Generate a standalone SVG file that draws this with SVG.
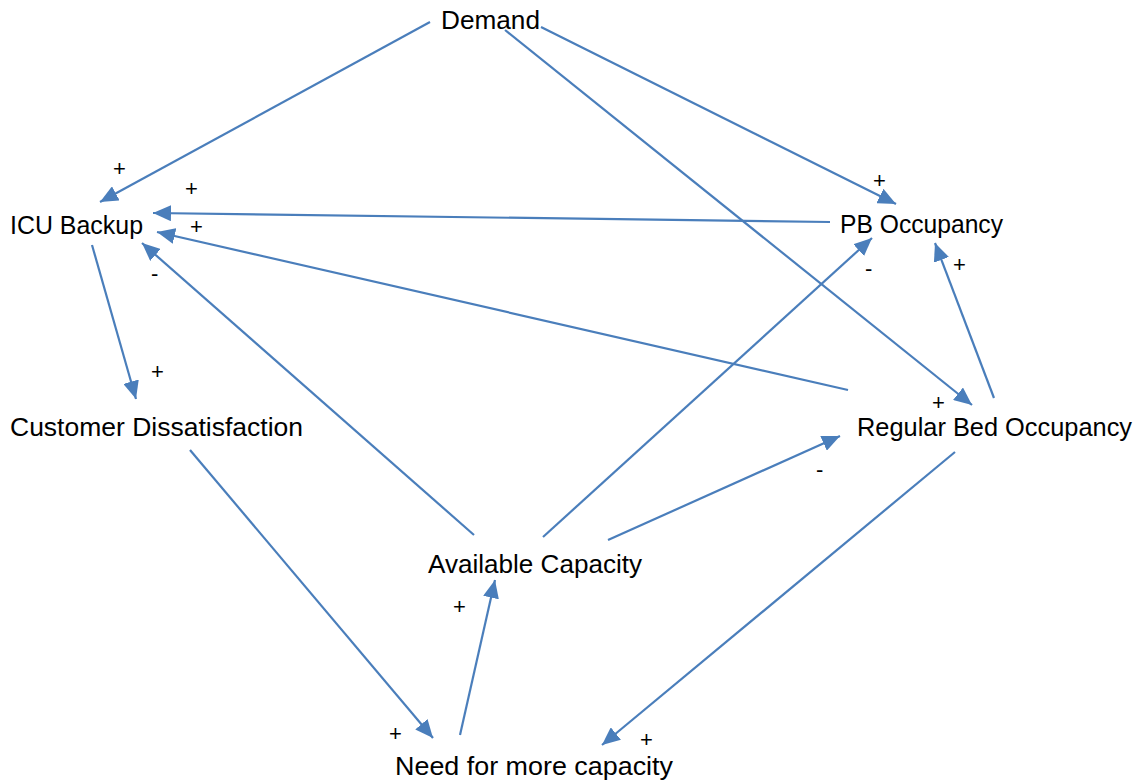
<svg xmlns="http://www.w3.org/2000/svg" width="1139" height="783" viewBox="0 0 1139 783">
<style>
.lbl{font-family:"Liberation Sans",Arial,sans-serif;font-size:25px;fill:#000}
.sgn{font-family:"Liberation Sans",Arial,sans-serif;font-size:22px;fill:#000}
.c line{stroke:#4a7ebb;stroke-width:2.2;fill:none;marker-end:url(#ah)}
</style>
<defs>
<marker id="ah" markerUnits="userSpaceOnUse" markerWidth="19" markerHeight="16" refX="18" refY="8" orient="auto">
<path d="M0,0 L18,8 L0,16 Z" fill="#4a7ebb"/>
</marker>
</defs>
<rect width="1139" height="783" fill="#fff"/>
<g class="c" id="connectors">
<line x1="430" y1="22" x2="100" y2="202"/>
<line x1="541" y1="27" x2="896" y2="204"/>
<line x1="505" y1="30" x2="972" y2="405"/>
<line x1="830" y1="222" x2="153" y2="213"/>
<line x1="848" y1="390" x2="157" y2="232"/>
<line x1="474" y1="535" x2="142" y2="243"/>
<line x1="92" y1="245" x2="136" y2="399"/>
<line x1="543" y1="537" x2="872" y2="238"/>
<line x1="994" y1="398" x2="935" y2="243"/>
<line x1="608" y1="540" x2="840" y2="436"/>
<line x1="190" y1="450" x2="433" y2="738"/>
<line x1="460" y1="735" x2="495" y2="580"/>
<line x1="955" y1="452" x2="602" y2="745"/>
</g>
<g id="demand"><text class="lbl" x="441" y="29" textLength="99" lengthAdjust="spacingAndGlyphs">Demand</text></g>
<g id="icu"><text class="lbl" x="10" y="234" textLength="133" lengthAdjust="spacingAndGlyphs">ICU Backup</text></g>
<g id="pb"><text class="lbl" x="840" y="233" textLength="163" lengthAdjust="spacingAndGlyphs">PB Occupancy</text></g>
<g id="rbo"><text class="lbl" x="857" y="436" textLength="275" lengthAdjust="spacingAndGlyphs">Regular Bed Occupancy</text></g>
<g id="cd"><text class="lbl" x="10" y="436" textLength="293" lengthAdjust="spacingAndGlyphs">Customer Dissatisfaction</text></g>
<g id="ac"><text class="lbl" x="428" y="573" textLength="214" lengthAdjust="spacingAndGlyphs">Available Capacity</text></g>
<g id="need"><text class="lbl" x="395" y="775" textLength="278" lengthAdjust="spacingAndGlyphs">Need for more capacity</text></g>
<g id="signs">
<text class="sgn" x="113" y="176">+</text>
<text class="sgn" x="185" y="196">+</text>
<text class="sgn" x="190" y="234">+</text>
<text class="sgn" x="151" y="281">-</text>
<text class="sgn" x="151" y="379">+</text>
<text class="sgn" x="873" y="188">+</text>
<text class="sgn" x="865" y="276">-</text>
<text class="sgn" x="953" y="272">+</text>
<text class="sgn" x="932" y="410">+</text>
<text class="sgn" x="816" y="477">-</text>
<text class="sgn" x="453" y="614">+</text>
<text class="sgn" x="389" y="741">+</text>
<text class="sgn" x="640" y="747">+</text>
</g>
</svg>
